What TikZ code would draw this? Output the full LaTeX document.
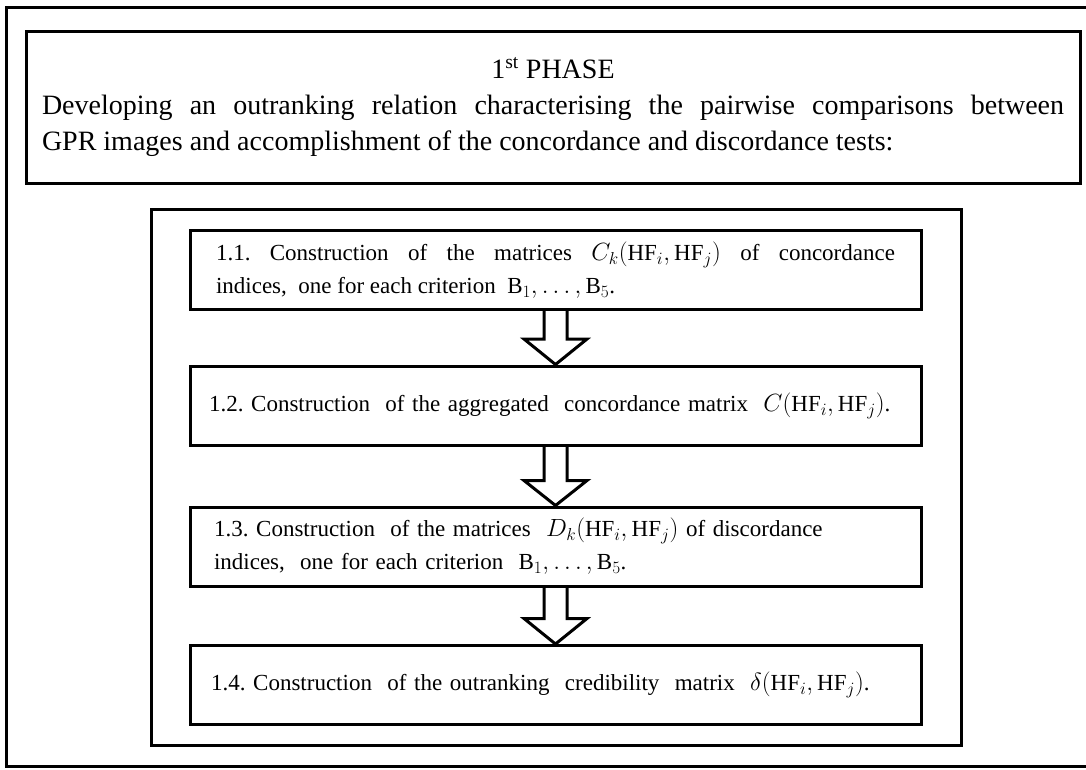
\documentclass[tikz,border=0pt]{standalone}
\usepackage{fontspec}
\setmainfont{Liberation Serif}
\usetikzlibrary{calc}
\tikzset{
  frame/.style={draw=black, line width=3pt},
  stepbox/.style={draw=black, line width=3pt, rectangle, minimum width=731pt,
    minimum height=79pt, inner xsep=19pt, text width=693pt, align=left,
    font=\fontsize{23}{33}\selectfont},
  hollow/.style={draw=black, line width=3pt, line join=miter},
}
\newcommand{\HFpair}{\bigl(\mathrm{HF}_i,\mathrm{HF}_j\bigr)}
\frenchspacing
\begin{document}
\frenchspacing
\begin{tikzpicture}[x=1pt,y=-1pt]
\useasboundingbox (0,0) rectangle (1086,769);
\fill[white] (0,0) rectangle (1086,769);
\begin{scope}
  \clip (0,0) rectangle (1086,769);
  \draw[frame] (6,7) rectangle (1110,766);
\end{scope}
\node[frame, rectangle, minimum width=1054pt, minimum height=152pt, inner xsep=16pt,
  text width=1022pt, align=justify, font=\fontsize{28}{36}\selectfont\frenchspacing] (phase) at (553,107)
  {{\centering 1\textsuperscript{st} PHASE\par}Developing an outranking relation characterising the pairwise comparisons between\linebreak GPR images and accomplishment of the concordance and discordance tests:};
\node[frame, rectangle, minimum width=810pt, minimum height=536pt] (inner) at (556,477) {};
\node[stepbox, align=justify, inner xsep=26pt, text width=679pt, font=\fontsize{23}{33}\selectfont\frenchspacing] (b11) at (555.5,270)
  {1.1. Construction of the matrices $C_k\HFpair$ of concordance\linebreak indices,\ \ one for each criterion\ \ $\mathrm{B}_1,\dots,\mathrm{B}_5$.};
\node[stepbox] (b12) at (555.5,405.5)
  {\mbox{1.2. Construction\ \ of the aggregated\ \ concordance matrix\ \ $C\HFpair$.}};
\node[stepbox, inner xsep=24pt, text width=683pt] (b13) at (555.5,546.5)
  {1.3. Construction\ \ of the matrices\ \ $D_k\HFpair$ of discordance\\indices,\ \ one for each criterion\ \ $\mathrm{B}_1,\dots,\mathrm{B}_5$.};
\node[stepbox, inner xsep=21pt, text width=689pt] (b14) at (555.5,685)
  {\mbox{1.4. Construction\ \ of the outranking\ \ credibility\ \ matrix\ \ $\delta\HFpair$.}};
% hollow block arrows
\draw[hollow] ($(b11.south)+(-11.5,0)$) -- ($(b11.south)+(-11.5,28)$) -- ($(b11.south)+(-31.5,28)$)
  -- (b12.north) -- ($(b11.south)+(31.5,28)$) -- ($(b11.south)+(11.5,28)$) -- ($(b11.south)+(11.5,0)$);
\draw[hollow] ($(b12.south)+(-11.5,0)$) -- ($(b12.south)+(-11.5,34)$) -- ($(b12.south)+(-31.5,34)$)
  -- (b13.north) -- ($(b12.south)+(31.5,34)$) -- ($(b12.south)+(11.5,34)$) -- ($(b12.south)+(11.5,0)$);
\draw[hollow] ($(b13.south)+(-11.5,0)$) -- ($(b13.south)+(-11.5,31)$) -- ($(b13.south)+(-31.5,31)$)
  -- (b14.north) -- ($(b13.south)+(31.5,31)$) -- ($(b13.south)+(11.5,31)$) -- ($(b13.south)+(11.5,0)$);
\end{tikzpicture}
\end{document}
